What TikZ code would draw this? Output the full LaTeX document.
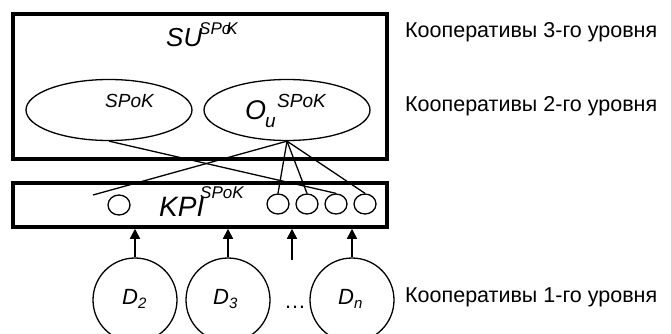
\documentclass[tikz,border=0pt]{standalone}
\usepackage{fontspec}
\setmainfont{Liberation Sans}
\usetikzlibrary{arrows.meta,shapes.geometric}
\newcommand{\fs}[1]{\fontsize{#1}{#1}\selectfont}
\tikzset{
  bigbox/.style={draw, line width=3.5pt, rectangle, inner sep=0pt},
  ell/.style={draw, line width=1.3pt, ellipse, inner sep=0pt, minimum width=166pt, minimum height=61pt},
  small/.style={draw, line width=1.3pt, ellipse, inner sep=0pt, minimum width=22pt, minimum height=20pt},
  dcirc/.style={draw, line width=1.3pt, circle, inner sep=0pt, minimum size=84pt},
  txt/.style={inner sep=0pt, anchor=base west},
  conn/.style={line width=1.3pt},
  up/.style={line width=1.6pt, -{Triangle[length=10pt,width=10pt]}},
}
\begin{document}
\begin{tikzpicture}[x=1pt,y=-1pt]
\useasboundingbox (0,0) rectangle (671,334);
% boxes
\node[bigbox, minimum width=374pt, minimum height=145pt] (su) at (200,86.5) {};
\node[bigbox, minimum width=374pt, minimum height=44pt] (kpi) at (200,205) {};
% ellipses
\node[ell] (e1) at (109,110) {};
\node[ell] (e2) at (287,110) {};
% titles
\node[txt] (sut) at (166,47) {\fs{26}\itshape SU};
\node[txt] (sus) at (199,35) {\fs{17}\itshape SPo\kern-5pt K};
\node[txt] (e1t) at (105,107) {\fs{19}\itshape SPoK};
\node[txt] (e2o) at (245,120) {\fs{27}\itshape O};
\node[txt] (e2u) at (265,127) {\fs{19}\itshape u};
\node[txt] (e2s) at (277,107) {\fs{19}\itshape SPoK};
\node[txt] (kt) at (159,216) {\fs{28}\itshape KPI};
\node[txt] (ks) at (200,198) {\fs{17}\itshape SPoK};
% small circles
\node[small] (c0) at (119,205) {};
\node[small] (c1) at (278,204) {};
\node[small] (c2) at (307,204) {};
\node[small] (c3) at (336,204) {};
\node[small] (c4) at (365,204) {};
\coordinate (lf) at (93,195);
% connectors
\draw[conn] (e1.south) -- (c3.north);
\draw[conn] (e2.south) -- (lf);
\draw[conn] (e2.south) -- (c1.north);
\draw[conn] (e2.south) -- (c2.north);
\draw[conn] (e2.south) -- (c4.north);
% D circles
\node[dcirc] (d2) at (135,300) {};
\node[dcirc] (d3) at (228,300) {};
\node[dcirc] (dn) at (352,300) {};
\node[txt] at (122,304) {\fs{22}\itshape D\raisebox{-4pt}{\fs{15}2}};
\node[txt] at (213,304) {\fs{22}\itshape D\raisebox{-4pt}{\fs{15}3}};
\node[txt] at (338,304) {\fs{22}\itshape D\raisebox{-4pt}{\fs{15}n}};
\node[txt] (dots) at (284,308) {\fs{22}…};
\coordinate (a3) at (292,260);
% arrows
\draw[up] (d2.north) -- (d2.north |- kpi.south);
\draw[up] (d3.north) -- (d3.north |- kpi.south);
\draw[up] (a3) -- (a3 |- kpi.south);
\draw[up] (dn.north) -- (dn.north |- kpi.south);
% right labels
\node[txt] (l3) at (405,38) {\fs{21.5}Кооперативы 3-го уровня};
\node[txt] (l2) at (405,112) {\fs{21.5}Кооперативы 2-го уровня};
\node[txt] (l1) at (405,302) {\fs{21.5}Кооперативы 1-го уровня};
\end{tikzpicture}
\end{document}
